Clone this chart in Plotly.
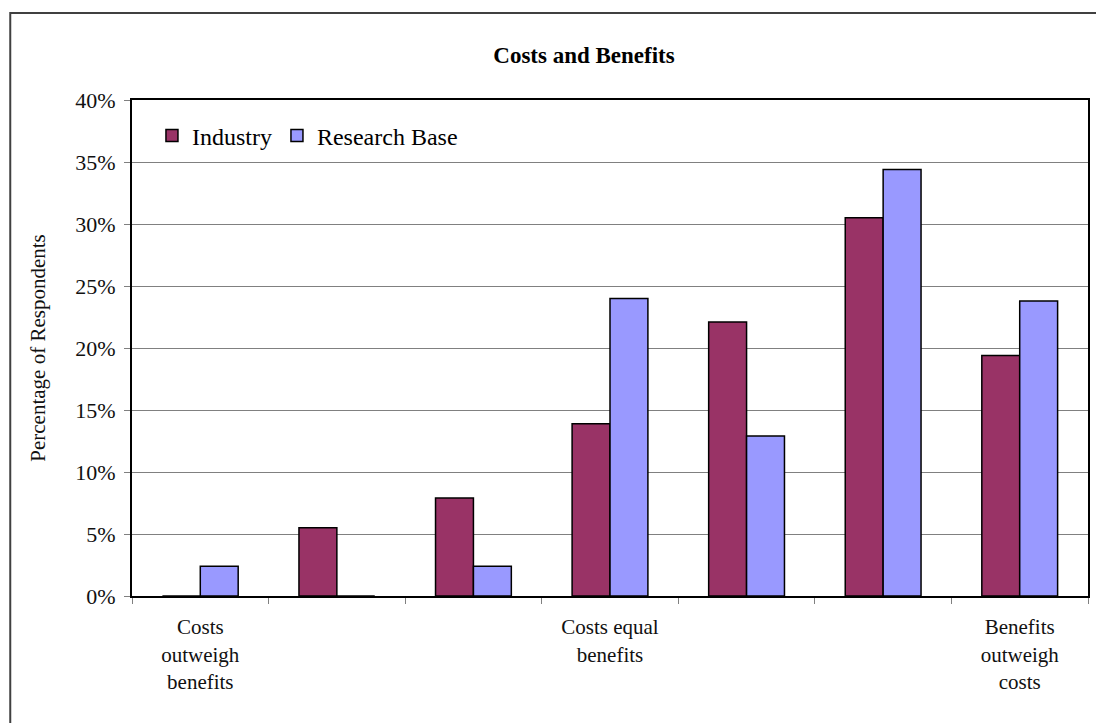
import plotly.graph_objects as go

categories = ["c1", "c2", "c3", "c4", "c5", "c6", "c7"]
tick_labels = ["Costs<br>outweigh<br>benefits", "", "", "Costs equal<br>benefits", "", "", "Benefits<br>outweigh<br>costs"]
industry = [0.0, 5.5, 7.9, 13.9, 22.1, 30.5, 19.4]
research_base = [2.4, 0.0, 2.4, 24.0, 12.9, 34.4, 23.8]
y_ticks = [0, 5, 10, 15, 20, 25, 30, 35, 40]
y_tick_labels = ["0%", "5%", "10%", "15%", "20%", "25%", "30%", "35%", "40%"]

FONT = "Liberation Serif, Times New Roman, serif"

fig = go.Figure()
fig.add_trace(go.Bar(x=categories, y=industry, name="Industry",
                     marker=dict(color="#993366", line=dict(color="black", width=1.5))))
fig.add_trace(go.Bar(x=categories, y=research_base, name="Research Base",
                     marker=dict(color="#9999FF", line=dict(color="black", width=1.5))))

L, R, T, B = 132, 6, 100, 127
W, H = 1096, 723
pw, ph = W - L - R, H - T - B

fig.update_layout(
    width=W, height=H,
    margin=dict(l=L, r=R, t=T, b=B),
    paper_bgcolor="white", plot_bgcolor="white",
    barmode="group", bargap=0.445, bargroupgap=0,
    font=dict(family=FONT, color="black"),
    title=dict(text="<b>Costs and Benefits</b>", x=(584) / W, xanchor="center",
               y=1 - 55 / H, yanchor="middle", font=dict(size=23, family=FONT, color="black")),
    legend=dict(orientation="h", x=(152 - L) / pw, xanchor="left", y=1 - (136 - T) / ph, yanchor="middle",
                font=dict(size=24, family=FONT), bgcolor="rgba(0,0,0,0)", traceorder="normal",
                itemwidth=30),
    showlegend=True,
)
fig.update_xaxes(
    type="category", tickvals=categories, ticktext=tick_labels, tickson="boundaries",
    ticks="outside", ticklen=6, tickcolor="#808080", tickwidth=1,
    showline=True, linecolor="black", linewidth=2, mirror=True,
    tickfont=dict(size=21, family=FONT, color="#111"), showgrid=False,
    ticklabelstandoff=11,
)
fig.update_yaxes(
    range=[0, 40], tickvals=y_ticks, ticktext=y_tick_labels,
    ticks="outside", ticklen=6, tickcolor="#808080", tickwidth=1,
    showline=True, linecolor="black", linewidth=2, mirror=True,
    showgrid=True, gridcolor="#808080", gridwidth=1, zeroline=False,
    tickfont=dict(size=22, family=FONT, color="#111"), ticklabelstandoff=4,
    title=dict(text="Percentage of Respondents", font=dict(size=21, family=FONT, color="#111"), standoff=24),
)

# outer chart frame
fig.add_shape(type="rect", xref="paper", yref="paper",
              x0=(10 - L) / pw, x1=(W + 20 - L) / pw,
              y0=-(B + 20) / ph, y1=1 + (T - 13) / ph,
              line=dict(color="#404040", width=2), fillcolor="rgba(0,0,0,0)", layer="below")

fig.write_html("out.html")
